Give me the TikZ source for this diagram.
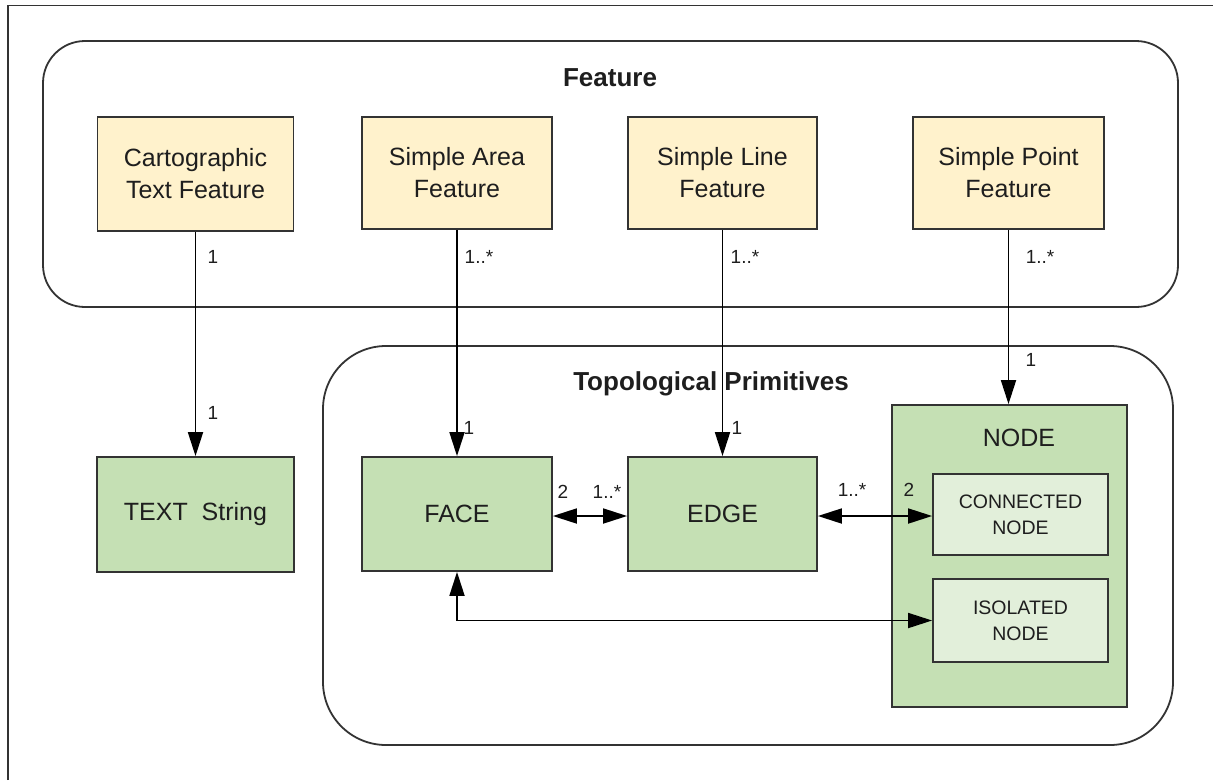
\documentclass[tikz,border=0pt]{standalone}
\usepackage{fontspec}
\setmainfont{Liberation Sans}
\usetikzlibrary{arrows.meta}
\definecolor{featfill}{RGB}{255,242,204}
\definecolor{primfill}{RGB}{197,224,180}
\definecolor{subfill}{RGB}{226,239,218}
\definecolor{edgecol}{RGB}{51,51,51}
\definecolor{txtcol}{RGB}{30,30,30}
\tikzset{
  frameline/.style={draw=edgecol, line width=1.8pt},
  container/.style={draw=edgecol, line width=1.8pt, rectangle, inner sep=0pt},
  title/.style={font=\bfseries\fontsize{26}{30}\selectfont, text=txtcol, inner sep=0pt},
  featbox/.style={draw=edgecol, fill=featfill, line width=1.8pt, rectangle, align=center,
    font=\fontsize{25}{32}\selectfont, text=txtcol, inner sep=0pt},
  primbox/.style={draw=edgecol, fill=primfill, line width=1.8pt, rectangle, align=center,
    font=\fontsize{25}{32}\selectfont, text=txtcol, inner sep=0pt},
  subbox/.style={draw=edgecol, fill=subfill, line width=1.8pt, rectangle, align=center,
    font=\fontsize{19.5}{26}\selectfont, text=txtcol, inner sep=0pt},
  mult/.style={font=\fontsize{19}{22}\selectfont, text=txtcol, inner sep=0pt},
  conn/.style={draw=black, line width=1.8pt, -{Triangle[length=24pt,width=15pt]}},
  bconn/.style={draw=black, line width=1.8pt, {Triangle[length=24pt,width=15pt]}-{Triangle[length=24pt,width=15pt]}},
}
\begin{document}
\begin{tikzpicture}[x=1pt,y=-1pt]
\useasboundingbox[fill=white] (0,0) rectangle (1213,780);
% outer frame (top and left edges only)
\draw[frameline] (8,780) -- (8,5.5) -- (1213,5.5);

% containers
\node[container, minimum width=1135pt, minimum height=266pt, rounded corners=42pt] (feat) at (610.5,174) {};
\node[title] (feattitle) at (610,78) {Feature};
\node[container, minimum width=850pt, minimum height=399pt, rounded corners=63pt] (prim) at (748,545.5) {};

% feature boxes
\node[featbox, minimum width=196pt, minimum height=114pt] (cart) at (195.5,174) {Cartographic\\Text Feature};
\node[featbox, minimum width=190pt, minimum height=112pt] (sarea) at (457,173) {Simple Area\\Feature};
\node[featbox, minimum width=189pt, minimum height=112pt] (sline) at (722.5,173) {Simple Line\\Feature};
\node[featbox, minimum width=191pt, minimum height=112pt] (spoint) at (1008.5,173) {Simple Point\\Feature};

% primitive boxes
\node[primbox, minimum width=197pt, minimum height=115pt] (text) at (195.5,514.5) {TEXT\ \ String};
\node[primbox, minimum width=190pt, minimum height=114pt] (face) at (457,514) {FACE};
\node[primbox, minimum width=189pt, minimum height=114pt] (edge) at (722.5,514) {EDGE};
\node[primbox, minimum width=235pt, minimum height=302pt] (nodebox) at (1009.5,556) {};
\node[primbox, draw=none, fill=none] (nodetitle) at (1019,438) {NODE};
\node[subbox, minimum width=175pt, minimum height=81pt] (conn) at (1020.5,514.5) {CONNECTED\\NODE};
\node[subbox, minimum width=175pt, minimum height=83pt] (iso) at (1020.5,620.5) {ISOLATED\\NODE};

\node[title] (primtitle) at (711,384) {Topological Primitives};

% connectors
\draw[conn] (cart.south) -- (cart.south |- text.north);
\draw[conn] (sarea.south) -- (sarea.south |- face.north);
\draw[conn] (sline.south) -- (sline.south |- edge.north);
\draw[conn] (spoint.south) -- (spoint.south |- nodebox.north);
\draw[bconn] (face.east |- 0,516) -- (edge.west |- 0,516);
\draw[bconn] (edge.east |- 0,516) -- (conn.west |- 0,516);
\draw[bconn] (face.south) |- (iso.west);

% multiplicities
\node[mult] (m1) at (213,257) {1};
\node[mult] (m2) at (213,413) {1};
\node[mult] (m3) at (479,257) {1..*};
\node[mult] (m4) at (469,428) {1};
\node[mult] (m5) at (745,257) {1..*};
\node[mult] (m6) at (737,428) {1};
\node[mult] (m7) at (1040,257) {1..*};
\node[mult] (m8) at (1031,360) {1};
\node[mult] (m9) at (563,492) {2};
\node[mult] (m10) at (607,492) {1..*};
\node[mult] (m11) at (852,490) {1..*};
\node[mult] (m12) at (909,490) {2};
\end{tikzpicture}
\end{document}
